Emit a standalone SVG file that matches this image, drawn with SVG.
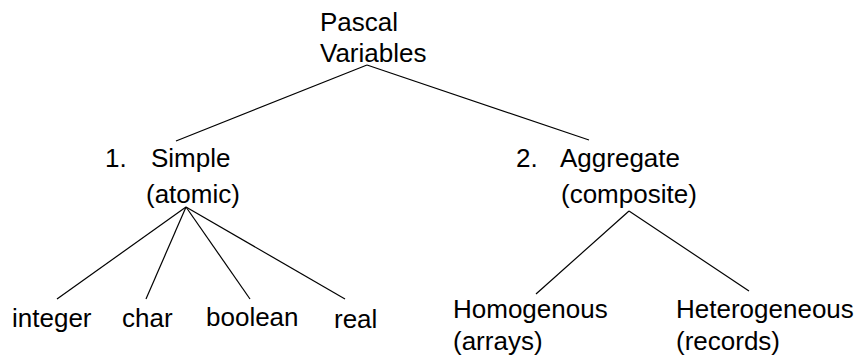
<svg xmlns="http://www.w3.org/2000/svg" width="861" height="358" viewBox="0 0 861 358">
<style>
text{font-family:"Liberation Sans",Arial,sans-serif;font-size:26px;fill:#000}
.c line{stroke:#000;stroke-width:1.2}
</style>
<rect width="861" height="358" fill="#fff"/>
<g class="c" id="connectors">
<line x1="367" y1="65" x2="176" y2="141"/>
<line x1="367" y1="65" x2="589" y2="140"/>
<line x1="186" y1="207" x2="57" y2="299"/>
<line x1="186" y1="207" x2="146" y2="299"/>
<line x1="186" y1="207" x2="250" y2="299"/>
<line x1="186" y1="207" x2="345" y2="299"/>
<line x1="629" y1="211" x2="536" y2="294"/>
<line x1="629" y1="211" x2="749" y2="291"/>
</g>
<g id="root"><text x="320" y="31">Pascal</text><text x="320" y="62">Variables</text></g>
<g id="simple"><text x="105" y="167">1.</text><text x="151" y="167">Simple</text><text x="146" y="203">(atomic)</text></g>
<g id="aggregate"><text x="516" y="167">2.</text><text x="560" y="167">Aggregate</text><text x="561" y="203">(composite)</text></g>
<g id="integer"><text x="12" y="327">integer</text></g>
<g id="char"><text x="122" y="327">char</text></g>
<g id="boolean"><text x="206" y="326">boolean</text></g>
<g id="real"><text x="334" y="328">real</text></g>
<g id="homogenous"><text x="453" y="318">Homogenous</text><text x="453" y="350">(arrays)</text></g>
<g id="heterogeneous"><text x="676" y="318">Heterogeneous</text><text x="676" y="350">(records)</text></g>
</svg>
